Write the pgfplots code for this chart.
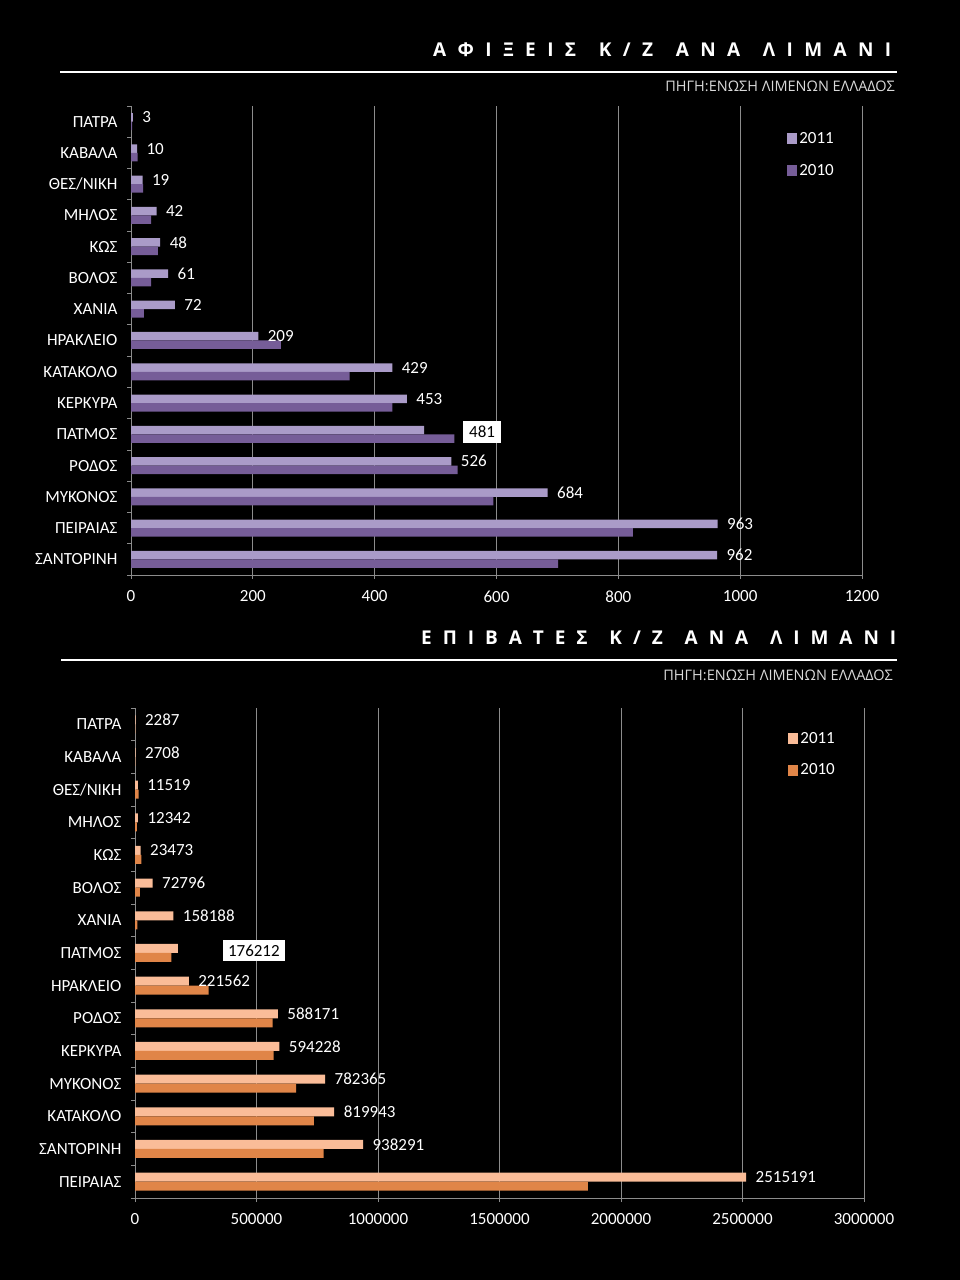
\documentclass[border=0pt]{standalone}
\usepackage{pgfplots}
\pgfplotsset{compat=1.18}
\usepackage{pgfplotstable}
\usepackage{fontspec}
\setmainfont{Carlito}
\newfontfamily\titlefont{Open Sans}
\definecolor{lavA}{RGB}{170,155,200}
\definecolor{lavB}{RGB}{118,93,152}
\definecolor{orA}{RGB}{250,188,152}
\definecolor{orB}{RGB}{224,133,72}
\definecolor{gridg}{RGB}{140,140,140}

% arrivals of cruise ships (top chart), rows from top to bottom
\pgfplotstableread{
y v11 v10
14 3 2
13 10 11
12 19 20
11 42 33
10 48 44
9 61 33
8 72 21
7 209 246
6 429 359
5 453 429
4 481 531
3 526 536
2 684 595
1 963 824
0 962 701
}\arrivals
\pgfplotstableread{
y v11
4 481
}\arrivalsbox

% passengers (bottom chart), rows from top to bottom
\pgfplotstableread{
y v11 v10
14 2287 2000
13 2708 2000
12 11519 15000
11 12342 8000
10 23473 26000
9 72796 20500
8 158188 9500
7 176212 150000
6 221562 303000
5 588171 566000
4 594228 570000
3 782365 663000
2 819943 736000
1 938291 776000
0 2515191 1864000
}\passengers
\pgfplotstableread{
y v11
7 176212
}\passengersbox

\pgfplotsset{
  mybar/.style={
    xbar, scale only axis, enlargelimits=false,
    ymin=-0.5, ymax=14.5,
    ytick={-0.5,0.5,...,14.5}, y tick label as interval,
    axis x line*=bottom, axis y line*=left,
    axis line style={-, gridg, line width=0.8pt},
    tick align=outside, major tick length=4pt,
    tick style={gridg, line width=0.8pt},
    xmajorgrids, grid style={gridg, line width=0.8pt},
    tick label style={font=\fontsize{17}{20}\selectfont, text=white},
    yticklabel style={xshift=-6pt},
    xticklabel style={yshift=-8pt},
    scaled x ticks=false,
    every node near coord/.append style={font=\fontsize{17}{20}\selectfont, text=white, anchor=west, xshift=6pt},
    legend cell align=left,
    legend image code/.code={\fill[##1] (0pt,-5.5pt) rectangle (10pt,5.5pt);},
    legend style={draw=none, fill=none, text=white, anchor=north west,
      font=\fontsize{17}{20}\selectfont, row sep=15pt, inner sep=0pt},
  }
}

\begin{document}
\begin{tikzpicture}[x=1pt,y=1pt]
\path[use as bounding box, fill=black] (0,0) rectangle (960,1280);

% ---------- top chart header ----------
\node[anchor=base west, inner sep=0pt, text=white] at (433,1223)
  {\titlefont\bfseries\fontsize{19}{22}\selectfont\makebox[458pt][l]{Α\hfill Φ\hfill Ι\hfill Ξ\hfill Ε\hfill Ι\hfill Σ\hfill\hfill Κ\hfill /\hfill Ζ\hfill\hfill Α\hfill Ν\hfill Α\hfill\hfill Λ\hfill Ι\hfill Μ\hfill Α\hfill Ν\hfill Ι}};
\draw[white, line width=1.3pt] (60,1208) -- (897,1208);
\node[anchor=base east, inner sep=0pt, text=white!85!black] at (895,1188)
  {\titlefont\fontsize{14.5}{16}\selectfont ΠΗΓΗ:ΕΝΩΣΗ ΛΙΜΕΝΩΝ ΕΛΛΑΔΟΣ};

\begin{axis}[mybar, at={(131pt,705pt)}, anchor=south west,
  width=731pt, height=469pt,
  xmin=0, xmax=1200,
  xtick={0,200,400,600,800,1000,1200},
  xticklabels={0,200,400,600,800,1000,1200},
  yticklabels={ΣΑΝΤΟΡΙΝΗ,ΠΕΙΡΑΙΑΣ,ΜΥΚΟΝΟΣ,ΡΟΔΟΣ,ΠΑΤΜΟΣ,ΚΕΡΚΥΡΑ,ΚΑΤΑΚΟΛΟ,ΗΡΑΚΛΕΙΟ,ΧΑΝΙΑ,ΒΟΛΟΣ,ΚΩΣ,ΜΗΛΟΣ,ΘΕΣ/ΝΙΚΗ,ΚΑΒΑΛΑ,ΠΑΤΡΑ},
  bar width=8.5pt,
  legend style={at={(0.8975,0.948)}},
]
\addplot[draw=none, fill=lavA, bar shift=4.25pt] table[x=v11, y=y] {\arrivals};
\addlegendentry{2011}
\addplot[draw=none, fill=lavB, bar shift=-4.25pt] table[x=v10, y=y] {\arrivals};
\addlegendentry{2010}
\addplot[forget plot, draw=none, fill=none, bar shift=4.25pt,
  point meta=explicit symbolic, nodes near coords,
  skip coords between index={10}{11}] table[x=v11, y=y, meta=v11] {\arrivals};
\addplot[forget plot, draw=none, fill=none, bar shift=4.25pt,
  point meta=explicit symbolic, nodes near coords,
  every node near coord/.append style={fill=white, text=black, xshift=33pt, yshift=-2pt, inner xsep=6pt, inner ysep=5pt}]
  table[x=v11, y=y, meta=v11] {\arrivalsbox};
\end{axis}

% ---------- bottom chart header ----------
\node[anchor=base west, inner sep=0pt, text=white] at (421,635)
  {\titlefont\bfseries\fontsize{19}{22}\selectfont\makebox[475pt][l]{Ε\hfill Π\hfill Ι\hfill Β\hfill Α\hfill Τ\hfill Ε\hfill Σ\hfill\hfill Κ\hfill /\hfill Ζ\hfill\hfill Α\hfill Ν\hfill Α\hfill\hfill Λ\hfill Ι\hfill Μ\hfill Α\hfill Ν\hfill Ι}};
\draw[white, line width=1.3pt] (61,620) -- (897,620);
\node[anchor=base east, inner sep=0pt, text=white!85!black] at (893,599)
  {\titlefont\fontsize{14.5}{16}\selectfont ΠΗΓΗ:ΕΝΩΣΗ ΛΙΜΕΝΩΝ ΕΛΛΑΔΟΣ};

\begin{axis}[mybar, at={(135pt,82pt)}, anchor=south west,
  width=729pt, height=490pt,
  xmin=0, xmax=3000000,
  xtick={0,500000,1000000,1500000,2000000,2500000,3000000},
  xticklabels={0,500000,1000000,1500000,2000000,2500000,3000000},
  yticklabels={ΠΕΙΡΑΙΑΣ,ΣΑΝΤΟΡΙΝΗ,ΚΑΤΑΚΟΛΟ,ΜΥΚΟΝΟΣ,ΚΕΡΚΥΡΑ,ΡΟΔΟΣ,ΗΡΑΚΛΕΙΟ,ΠΑΤΜΟΣ,ΧΑΝΙΑ,ΒΟΛΟΣ,ΚΩΣ,ΜΗΛΟΣ,ΘΕΣ/ΝΙΚΗ,ΚΑΒΑΛΑ,ΠΑΤΡΑ},
  bar width=9pt,
  legend style={at={(0.896,0.955)}},
]
\addplot[draw=none, fill=orA, bar shift=4.5pt] table[x=v11, y=y] {\passengers};
\addlegendentry{2011}
\addplot[draw=none, fill=orB, bar shift=-4.5pt] table[x=v10, y=y] {\passengers};
\addlegendentry{2010}
\addplot[forget plot, draw=none, fill=none, bar shift=4.5pt,
  point meta=explicit symbolic, nodes near coords,
  skip coords between index={7}{8}] table[x=v11, y=y, meta=v11] {\passengers};
\addplot[forget plot, draw=none, fill=none, bar shift=4.5pt,
  point meta=explicit symbolic, nodes near coords,
  every node near coord/.append style={fill=white, text=black, xshift=39pt, yshift=-2pt, inner xsep=5pt, inner ysep=4.5pt}]
  table[x=v11, y=y, meta=v11] {\passengersbox};
\end{axis}
\end{tikzpicture}
\end{document}
